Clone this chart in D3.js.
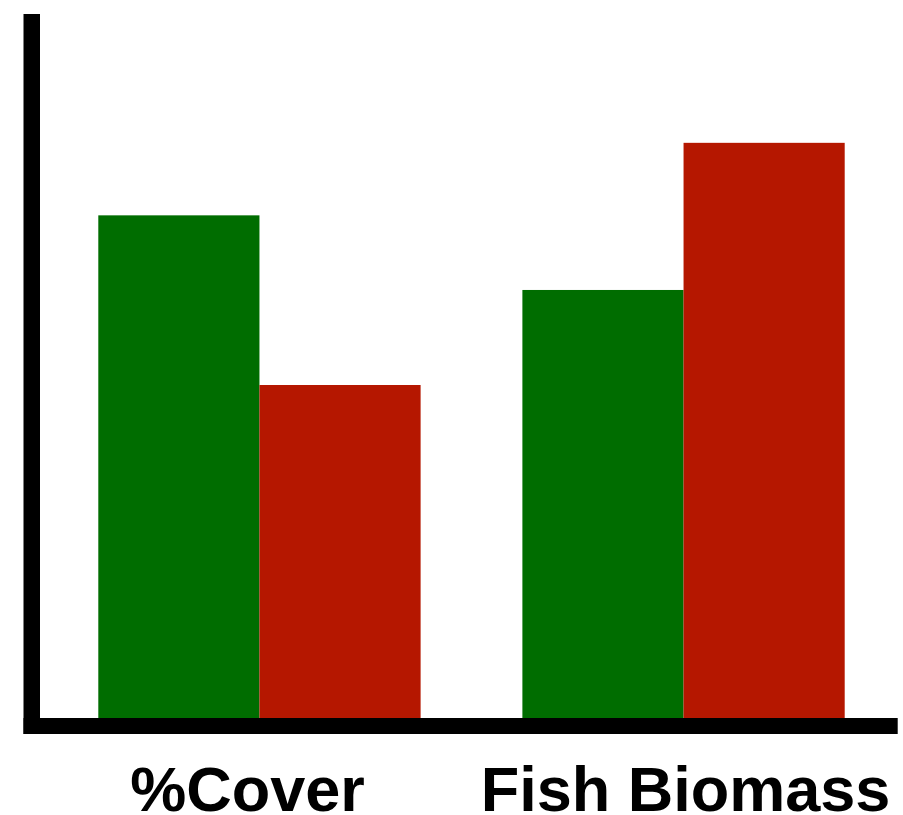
<!DOCTYPE html>
<html>
<head>
<meta charset="utf-8">
<script src="https://cdn.jsdelivr.net/npm/d3@7"></script>
<style>
  html, body { margin: 0; padding: 0; background: #fff; }
  svg { display: block; }
</style>
</head>
<body>
<svg id="chart" width="903" height="815"></svg>
<script>
const categories = ["%Cover", "Fish Biomass"];
const seriesNames = ["Series A", "Series B"];
const seriesA = [71.4, 60.8];
const seriesB = [47.3, 81.7];
const colors = ["#006d00", "#b51700"];

const svg = d3.select("#chart");
const baseY = 718, topY = 14;
const y = d3.scaleLinear().domain([0, 100]).range([baseY, topY]);
const x = d3.scaleBand().domain(categories).range([98.3, 844.7]).paddingInner(0.24).paddingOuter(0);
const xs = d3.scaleBand().domain(seriesNames).range([0, x.bandwidth()]).padding(0);

const rows = categories.map((c, i) => ({ cat: c, vals: [seriesA[i], seriesB[i]] }));

const g = svg.selectAll("g.grp").data(rows).enter().append("g")
  .attr("transform", d => `translate(${x(d.cat)},0)`);
g.selectAll("rect").data(d => d.vals.map((v, j) => ({ v, s: seriesNames[j], j })))
  .enter().append("rect")
  .attr("x", d => xs(d.s))
  .attr("width", xs.bandwidth())
  .attr("y", d => y(d.v))
  .attr("height", d => baseY - y(d.v))
  .attr("fill", d => colors[d.j]);

// axes (thick black)
svg.append("rect").attr("x", 23.5).attr("y", topY).attr("width", 16.5).attr("height", 734 - topY).attr("fill", "#000");
svg.append("rect").attr("x", 23.5).attr("y", baseY).attr("width", 897.7 - 23.5).attr("height", 16).attr("fill", "#000");

// category labels
const labelDx = [-12, 2];
svg.selectAll("text.cat").data(categories).enter().append("text")
  .attr("class", "cat")
  .attr("x", (d, i) => x(d) + x.bandwidth() / 2 + labelDx[i])
  .attr("y", 811)
  .attr("text-anchor", "middle")
  .attr("font-family", "Liberation Sans, Arial, sans-serif")
  .attr("font-weight", "bold")
  .attr("font-size", 63)
  .attr("fill", "#000")
  .text(d => d);
</script>
</body>
</html>
